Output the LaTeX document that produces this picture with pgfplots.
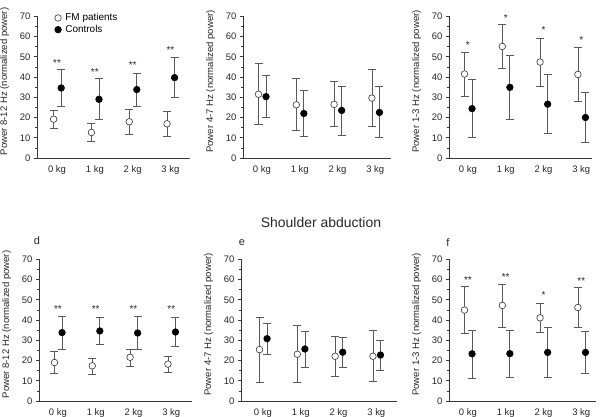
\documentclass[border=0pt]{standalone}
\usepackage{pgfplots}
\usepackage{pgfplotstable}
\pgfplotsset{compat=1.18}
\usepackage{fontspec}
\setmainfont{Liberation Sans}
\definecolor{axc}{gray}{0.22}
\definecolor{ebc}{gray}{0.35}
\tikzset{stars/.style={font=\fontsize{10}{12}\selectfont, anchor=base, text=black!85}}
\pgfplotsset{
 panel/.style={
  anchor=south west, x=37.8bp, y=2.0243bp, ymin=0, ymax=70,
  axis x line*=bottom, axis y line*=left,
  axis line style={axc, line width=0.7bp},
  ytick={0,10,...,70}, minor y tick num=1,
  xtick={0,1,2,3}, xticklabels={0 kg,1 kg,2 kg,3 kg},
  tick align=outside, major tick length=3bp, minor tick length=2bp,
  tick style={axc, line width=0.7bp},
  xtick style={draw=none},
  tick label style={font=\fontsize{9.5}{11}\selectfont, text=black!85},
  /pgf/number format/assume math mode=true,
  xticklabel style={yshift=-1.5bp},
  label style={font=\fontsize{9.6}{11.5}\selectfont, text=black!85},
  ylabel style={at={(ticklabel cs:0.54)}},
  ylabel shift=4bp,
  clip=false,
 },
 openpts/.style={only marks, mark=*, mark size=3.3bp,
  mark options={fill=white, draw=black!80, line width=0.6bp},
  error bars/.cd, y dir=both, y explicit,
  error bar style={ebc, line width=0.75bp},
  error mark options={rotate=90, mark size=4bp, ebc, line width=0.75bp}},
 filledpts/.style={only marks, mark=*, mark size=3.3bp,
  mark options={fill=black, draw=black, line width=0.6bp},
  error bars/.cd, y dir=both, y explicit,
  error bar style={ebc, line width=0.75bp},
  error mark options={rotate=90, mark size=4bp, ebc, line width=0.75bp}},
 table/errtab/.style={x=x, y=y, y error plus expr=\thisrow{hi}-\thisrow{y}, y error minus expr=\thisrow{y}-\thisrow{lo}},
}

% Panel a
\pgfplotstableread{
x y hi lo
-0.09 19.2 23.4 14.8
0.91 12.6 17.2 8.2
1.91 17.9 23.8 11.8
2.91 16.9 23.1 10.5
}\aopen
\pgfplotstableread{
x y hi lo
0.11 34.6 43.8 25.4
1.11 29.0 39.2 19.2
2.11 33.8 42.0 25.7
3.11 39.7 49.5 30.0
}\afill
% Panel b
\pgfplotstableread{
x y hi lo
-0.09 31.5 46.8 16.5
0.91 26.3 39.3 13.6
1.91 26.5 37.8 15.8
2.91 29.6 43.6 15.8
}\bopen
\pgfplotstableread{
x y hi lo
0.11 30.3 40.8 19.9
1.11 22.0 33.5 10.6
2.11 23.5 35.5 11.4
3.11 22.5 35.5 10.0
}\bfill
% Panel c
\pgfplotstableread{
x y hi lo
-0.09 41.5 52.1 30.3
0.91 55.1 65.9 44.3
1.91 47.4 59.3 35.4
2.91 41.3 54.6 28.0
}\copen
\pgfplotstableread{
x y hi lo
0.11 24.4 38.9 10.0
1.11 34.9 50.8 19.2
2.11 26.6 41.1 12.0
3.11 20.0 32.5 7.9
}\cfill
% Panel d
\pgfplotstableread{
x y hi lo
-0.09 19.0 24.3 13.8
0.91 17.4 21.1 13.4
1.91 21.6 25.6 17.3
2.91 18.2 22.0 14.3
}\dopen
\pgfplotstableread{
x y hi lo
0.11 33.8 42.0 25.7
1.11 34.6 41.5 28.0
2.11 33.6 42.0 25.4
3.11 34.1 41.5 27.0
}\dfill
% Panel e
\pgfplotstableread{
x y hi lo
-0.09 25.4 41.2 9.0
0.91 23.1 37.2 9.0
1.91 22.1 32.1 12.0
2.91 22.1 34.9 9.7
}\eopen
\pgfplotstableread{
x y hi lo
0.11 30.8 38.2 22.9
1.11 25.7 34.6 16.6
2.11 24.1 31.6 16.6
3.11 22.7 30.1 15.2
}\efill
% Panel f
\pgfplotstableread{
x y hi lo
-0.09 44.9 56.4 33.4
0.91 47.2 57.5 36.5
1.91 41.1 48.2 34.0
2.91 46.2 56.2 36.5
}\fopen
\pgfplotstableread{
x y hi lo
0.11 23.3 35.1 11.0
1.11 23.4 35.1 11.5
2.11 24.0 36.2 11.8
3.11 24.0 34.6 13.5
}\ffill

\begin{document}
\begin{tikzpicture}
\useasboundingbox (0,-417bp) rectangle (600bp,0);

% a
\begin{axis}[panel, at={(37bp,-158bp)}, xmin=-0.53, xmax=3.53,
  ylabel={Power 8-12 Hz (normalized power)},
  legend style={draw=none, fill=none, at={(0.095,1.045)}, anchor=north west,
    font=\fontsize{10}{12}\selectfont, legend cell align=left,
    nodes={inner sep=1.5bp}, row sep=0bp, column sep=2.5bp}]
\addplot[openpts] table[errtab] {\aopen};
\addplot[filledpts] table[errtab] {\afill};
\legend{FM patients, Controls}
\node[stars] at (axis cs:0,45) {**};
\node[stars] at (axis cs:1,40.9) {**};
\node[stars] at (axis cs:2,44) {**};
\node[stars] at (axis cs:3,51.6) {**};
\end{axis}

% b
\begin{axis}[panel, at={(243bp,-158bp)}, xmin=-0.5, xmax=3.42,
  ylabel={Power 4-7 Hz (normalized power)}]
\addplot[openpts] table[errtab] {\bopen};
\addplot[filledpts] table[errtab] {\bfill};
\end{axis}

% c
\begin{axis}[panel, at={(449bp,-158bp)}, xmin=-0.5, xmax=3.29,
  ylabel={Power 1-3 Hz (normalized power)}]
\addplot[openpts] table[errtab] {\copen};
\addplot[filledpts] table[errtab] {\cfill};
\node[stars] at (axis cs:0,53.9) {*};
\node[stars] at (axis cs:1,67.5) {*};
\node[stars] at (axis cs:2,61.3) {*};
\node[stars] at (axis cs:3,56.5) {*};
\end{axis}

% d
\begin{axis}[panel, at={(39bp,-401bp)}, xmin=-0.5, xmax=3.55,
  ylabel={Power 8-12 Hz (normalized power)}]
\addplot[openpts] table[errtab] {\dopen};
\addplot[filledpts] table[errtab] {\dfill};
\node[stars] at (axis cs:0,43.7) {**};
\node[stars] at (axis cs:1,43.7) {**};
\node[stars] at (axis cs:2,43.7) {**};
\node[stars] at (axis cs:3,43.7) {**};
\end{axis}

% e
\begin{axis}[panel, at={(241bp,-401bp)}, xmin=-0.58, xmax=3.55,
  ylabel={Power 4-7 Hz (normalized power)}]
\addplot[openpts] table[errtab] {\eopen};
\addplot[filledpts] table[errtab] {\efill};
\end{axis}

% f
\begin{axis}[panel, at={(449bp,-401bp)}, xmin=-0.5, xmax=3.39,
  ylabel={Power 1-3 Hz (normalized power)}]
\addplot[openpts] table[errtab] {\fopen};
\addplot[filledpts] table[errtab] {\ffill};
\node[stars] at (axis cs:0,58.1) {**};
\node[stars] at (axis cs:1,59.5) {**};
\node[stars] at (axis cs:2,50.4) {*};
\node[stars] at (axis cs:3,57.8) {**};
\end{axis}

\node[font=\fontsize{14}{16}\selectfont, text=black!85] at (321bp,-223bp) {Shoulder abduction};
\node[font=\fontsize{11}{13}\selectfont, text=black!85] at (37bp,-241bp) {d};
\node[font=\fontsize{11}{13}\selectfont, text=black!85] at (242bp,-243bp) {e};
\node[font=\fontsize{11}{13}\selectfont, text=black!85] at (448bp,-243bp) {f};
\end{tikzpicture}
\end{document}
